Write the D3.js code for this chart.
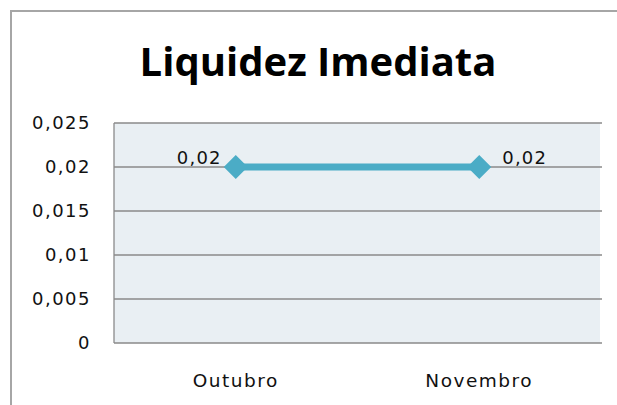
<!DOCTYPE html>
<html>
<head>
<meta charset="utf-8">
<script src="https://cdn.jsdelivr.net/npm/d3@7"></script>
<style>
  body { margin: 0; background: #fff; overflow: hidden; }
  svg { display: block; }
  svg text { font-family: "DejaVu Sans", sans-serif; }
</style>
</head>
<body>
<div id="chart"></div>
<script>
const categories = ["Outubro", "Novembro"];
const values = [0.02, 0.02];
const yTicks = [0, 0.005, 0.01, 0.015, 0.02, 0.025];

const W = 617, H = 405;
const plot = { left: 114, right: 601, top: 123, bottom: 343 };
const fmt = (d) => String(d).replace(".", ",");

const svg = d3.select("#chart").append("svg").attr("width", W).attr("height", H);

// outer chart frame: only top and left edges are inside the picture
svg.append("path")
  .attr("d", `M11,${H}V11H${W}`)
  .attr("fill", "none").attr("stroke", "#a6a6a6").attr("stroke-width", 2);

svg.append("text")
  .attr("x", 318).attr("y", 76)
  .attr("text-anchor", "middle")
  .style("font-family", "'Open Sans', sans-serif")
  .style("font-size", "40px").style("font-weight", "bold")
  .text("Liquidez Imediata");

const x = d3.scaleBand().domain(categories).range([plot.left, plot.right]);
const y = d3.scaleLinear().domain([0, 0.025]).range([plot.bottom, plot.top]);

svg.append("rect")
  .attr("x", plot.left).attr("y", plot.top)
  .attr("width", plot.right - plot.left - 1).attr("height", plot.bottom - plot.top)
  .attr("fill", "#e9eff3");

svg.append("g")
  .selectAll("line").data(yTicks).join("line")
  .attr("x1", plot.left).attr("x2", plot.right + 1)
  .attr("y1", (d) => y(d)).attr("y2", (d) => y(d))
  .attr("stroke", "#8a8a8a").attr("stroke-width", 1.3);

svg.append("line")
  .attr("x1", plot.left).attr("x2", plot.left)
  .attr("y1", plot.top).attr("y2", plot.bottom)
  .attr("stroke", "#8a8a8a").attr("stroke-width", 1.3);

svg.append("g")
  .selectAll("text").data(yTicks).join("text")
  .attr("x", 91).attr("y", (d) => y(d) + 6)
  .attr("text-anchor", "end")
  .style("font-size", "18px").style("letter-spacing", "1.5px").style("fill", "#111")
  .text((d) => fmt(d));

svg.append("g")
  .selectAll("text").data(categories).join("text")
  .attr("x", (d) => x(d) + x.bandwidth() / 2).attr("y", 387)
  .attr("text-anchor", "middle")
  .style("font-size", "18.5px").style("letter-spacing", "1.5px").style("fill", "#111")
  .text((d) => d);

const pts = categories.map((c, i) => ({ c, v: values[i] }));

svg.append("path")
  .datum(pts)
  .attr("fill", "none").attr("stroke", "#4bacc6").attr("stroke-width", 7)
  .attr("d", d3.line().x((d) => x(d.c) + x.bandwidth() / 2).y((d) => y(d.v)));

svg.append("g")
  .selectAll("path").data(pts).join("path")
  .attr("transform", (d) => `translate(${x(d.c) + x.bandwidth() / 2},${y(d.v)})`)
  .attr("d", "M0,-12L12,0L0,12L-12,0Z")
  .attr("fill", "#4bacc6");

svg.append("g")
  .selectAll("text").data(pts).join("text")
  .attr("x", (d, i) => x(d.c) + x.bandwidth() / 2 + (i === 0 ? -14 : 23))
  .attr("y", (d) => y(d.v) - 3)
  .attr("text-anchor", (d, i) => (i === 0 ? "end" : "start"))
  .style("font-size", "18px").style("letter-spacing", "1.2px").style("fill", "#111")
  .text((d) => fmt(d.v));
</script>
</body>
</html>
